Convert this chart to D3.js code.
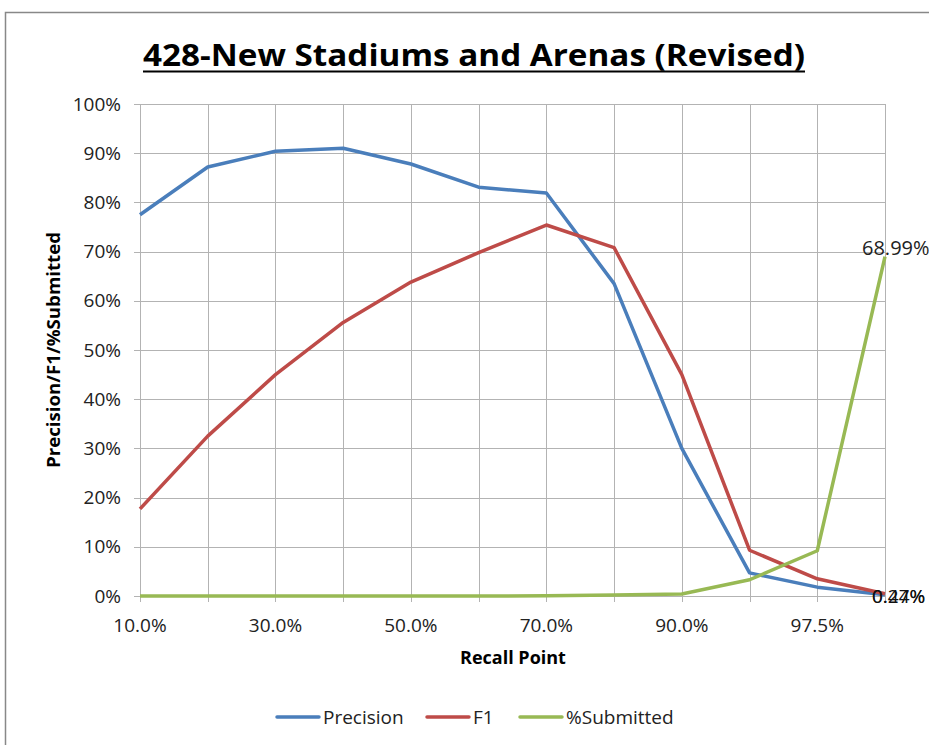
<!DOCTYPE html>
<html>
<head>
<meta charset="utf-8">
<script src="https://cdn.jsdelivr.net/npm/d3@7"></script>
<style>
  body { margin: 0; background: #fff; }
  text { font-family: "Open Sans", "DejaVu Sans", sans-serif; }
</style>
</head>
<body>
<script>
// recall points (x categories), only every 2nd one gets a label
var recallPoints = ["10.0%", "20.0%", "30.0%", "40.0%", "50.0%", "60.0%", "70.0%", "80.0%", "90.0%", "95.0%", "97.5%", "100.0%"];
var precision = [77.5, 87.2, 90.4, 91.0, 87.8, 83.1, 81.9, 63.5, 30.0, 4.7, 1.8, 0.24];
var f1 = [17.7, 32.5, 45.0, 55.6, 63.8, 69.8, 75.4, 70.8, 45.0, 9.3, 3.5, 0.47];
var submitted = [0, 0, 0, 0, 0, 0, 0.05, 0.2, 0.4, 3.3, 9.2, 68.99];
var yTicks = [0, 10, 20, 30, 40, 50, 60, 70, 80, 90, 100];

var seriesNames = ["Precision", "F1", "%Submitted"];
var seriesColors = ["#4a7ebb", "#be4b48", "#98b954"];
var seriesValues = [precision, f1, submitted];

var width = 929, height = 745;
var margin = {top: 104, right: 44, bottom: 149, left: 140};

var svg = d3.select("body").append("svg")
    .attr("width", width)
    .attr("height", height);

// chart frame
svg.append("rect")
    .attr("x", 5.5).attr("y", 12.5)
    .attr("width", width).attr("height", height)
    .attr("fill", "none")
    .attr("stroke", "#888").attr("stroke-width", 1.5);

var x = d3.scalePoint()
    .domain(recallPoints)
    .range([margin.left, width - margin.right]);
var y = d3.scaleLinear()
    .domain([0, 100])
    .range([height - margin.bottom, margin.top]);

// title
svg.append("text")
    .attr("x", 474).attr("y", 66)
    .attr("text-anchor", "middle")
    .attr("font-size", 30)
    .attr("font-weight", "bold")
    .attr("textLength", 662)
    .attr("lengthAdjust", "spacingAndGlyphs")
    .attr("fill", "#000")
    .text("428-New Stadiums and Arenas (Revised)");
svg.append("line")
    .attr("x1", 143).attr("x2", 805)
    .attr("y1", 71.5).attr("y2", 71.5)
    .attr("stroke", "#000").attr("stroke-width", 2);

// gridlines
svg.append("g").selectAll("line")
    .data(yTicks).enter().append("line")
    .attr("x1", margin.left - 6).attr("x2", width - margin.right)
    .attr("y1", function (d) { return Math.round(y(d)) + 0.5; })
    .attr("y2", function (d) { return Math.round(y(d)) + 0.5; })
    .attr("stroke", "#b3b3b3").attr("stroke-width", 1);
svg.append("g").selectAll("line")
    .data(recallPoints).enter().append("line")
    .attr("x1", function (d) { return Math.round(x(d)) + 0.5; })
    .attr("x2", function (d) { return Math.round(x(d)) + 0.5; })
    .attr("y1", margin.top)
    .attr("y2", height - margin.bottom + 6)
    .attr("stroke", "#b3b3b3").attr("stroke-width", 1);

// y axis labels
svg.append("g").selectAll("text")
    .data(yTicks).enter().append("text")
    .attr("x", 121)
    .attr("y", function (d) { return y(d) + 6.5; })
    .attr("text-anchor", "end")
    .attr("font-size", 19)
    .attr("fill", "#222")
    .text(function (d) { return d + "%"; });

// x axis labels (every second)
svg.append("g").selectAll("text")
    .data(recallPoints.filter(function (d, i) { return i % 2 === 0; }))
    .enter().append("text")
    .attr("x", function (d) { return x(d); })
    .attr("y", 632)
    .attr("text-anchor", "middle")
    .attr("font-size", 19)
    .attr("fill", "#222")
    .text(function (d) { return d; });

// axis titles
svg.append("text")
    .attr("x", 513).attr("y", 664)
    .attr("text-anchor", "middle")
    .attr("font-size", 18).attr("font-weight", "bold")
    .text("Recall Point");
svg.append("text")
    .attr("transform", "translate(60,350) rotate(-90)")
    .attr("text-anchor", "middle")
    .attr("font-size", 18).attr("font-weight", "bold")
    .attr("textLength", 236)
    .attr("lengthAdjust", "spacingAndGlyphs")
    .text("Precision/F1/%Submitted");

// lines
var line = d3.line()
    .x(function (d, i) { return x(recallPoints[i]); })
    .y(function (d) { return y(d); });

seriesValues.forEach(function (vals, k) {
    svg.append("path")
        .attr("d", line(vals))
        .attr("fill", "none")
        .attr("stroke", seriesColors[k])
        .attr("stroke-width", 3.5)
        .attr("stroke-linejoin", "round");
});

// end point labels
var last = recallPoints.length - 1;
svg.append("text")
    .attr("x", x(recallPoints[last]) - 23)
    .attr("y", y(submitted[last]) - 2)
    .attr("font-size", 20).attr("fill", "#222")
    .text(submitted[last].toFixed(2) + "%");
[precision, f1].forEach(function (vals) {
    svg.append("text")
        .attr("x", x(recallPoints[last]) - 13)
        .attr("y", y(0) + 7)
        .attr("font-size", 19).attr("fill", "#111")
        .text(vals[last].toFixed(2) + "%");
});

// legend
var legendX = [277, 427, 520];
var legend = svg.append("g").selectAll("g")
    .data(seriesNames).enter().append("g")
    .attr("transform", function (d, i) { return "translate(" + legendX[i] + ",717)"; });
legend.append("line")
    .attr("x1", 0).attr("x2", 42)
    .attr("stroke", function (d, i) { return seriesColors[i]; })
    .attr("stroke-width", 3.5)
    .attr("stroke-linecap", "round");
legend.append("text")
    .attr("x", 46).attr("y", 7)
    .attr("font-size", 19).attr("fill", "#222")
    .text(function (d) { return d; });
</script>
</body>
</html>
